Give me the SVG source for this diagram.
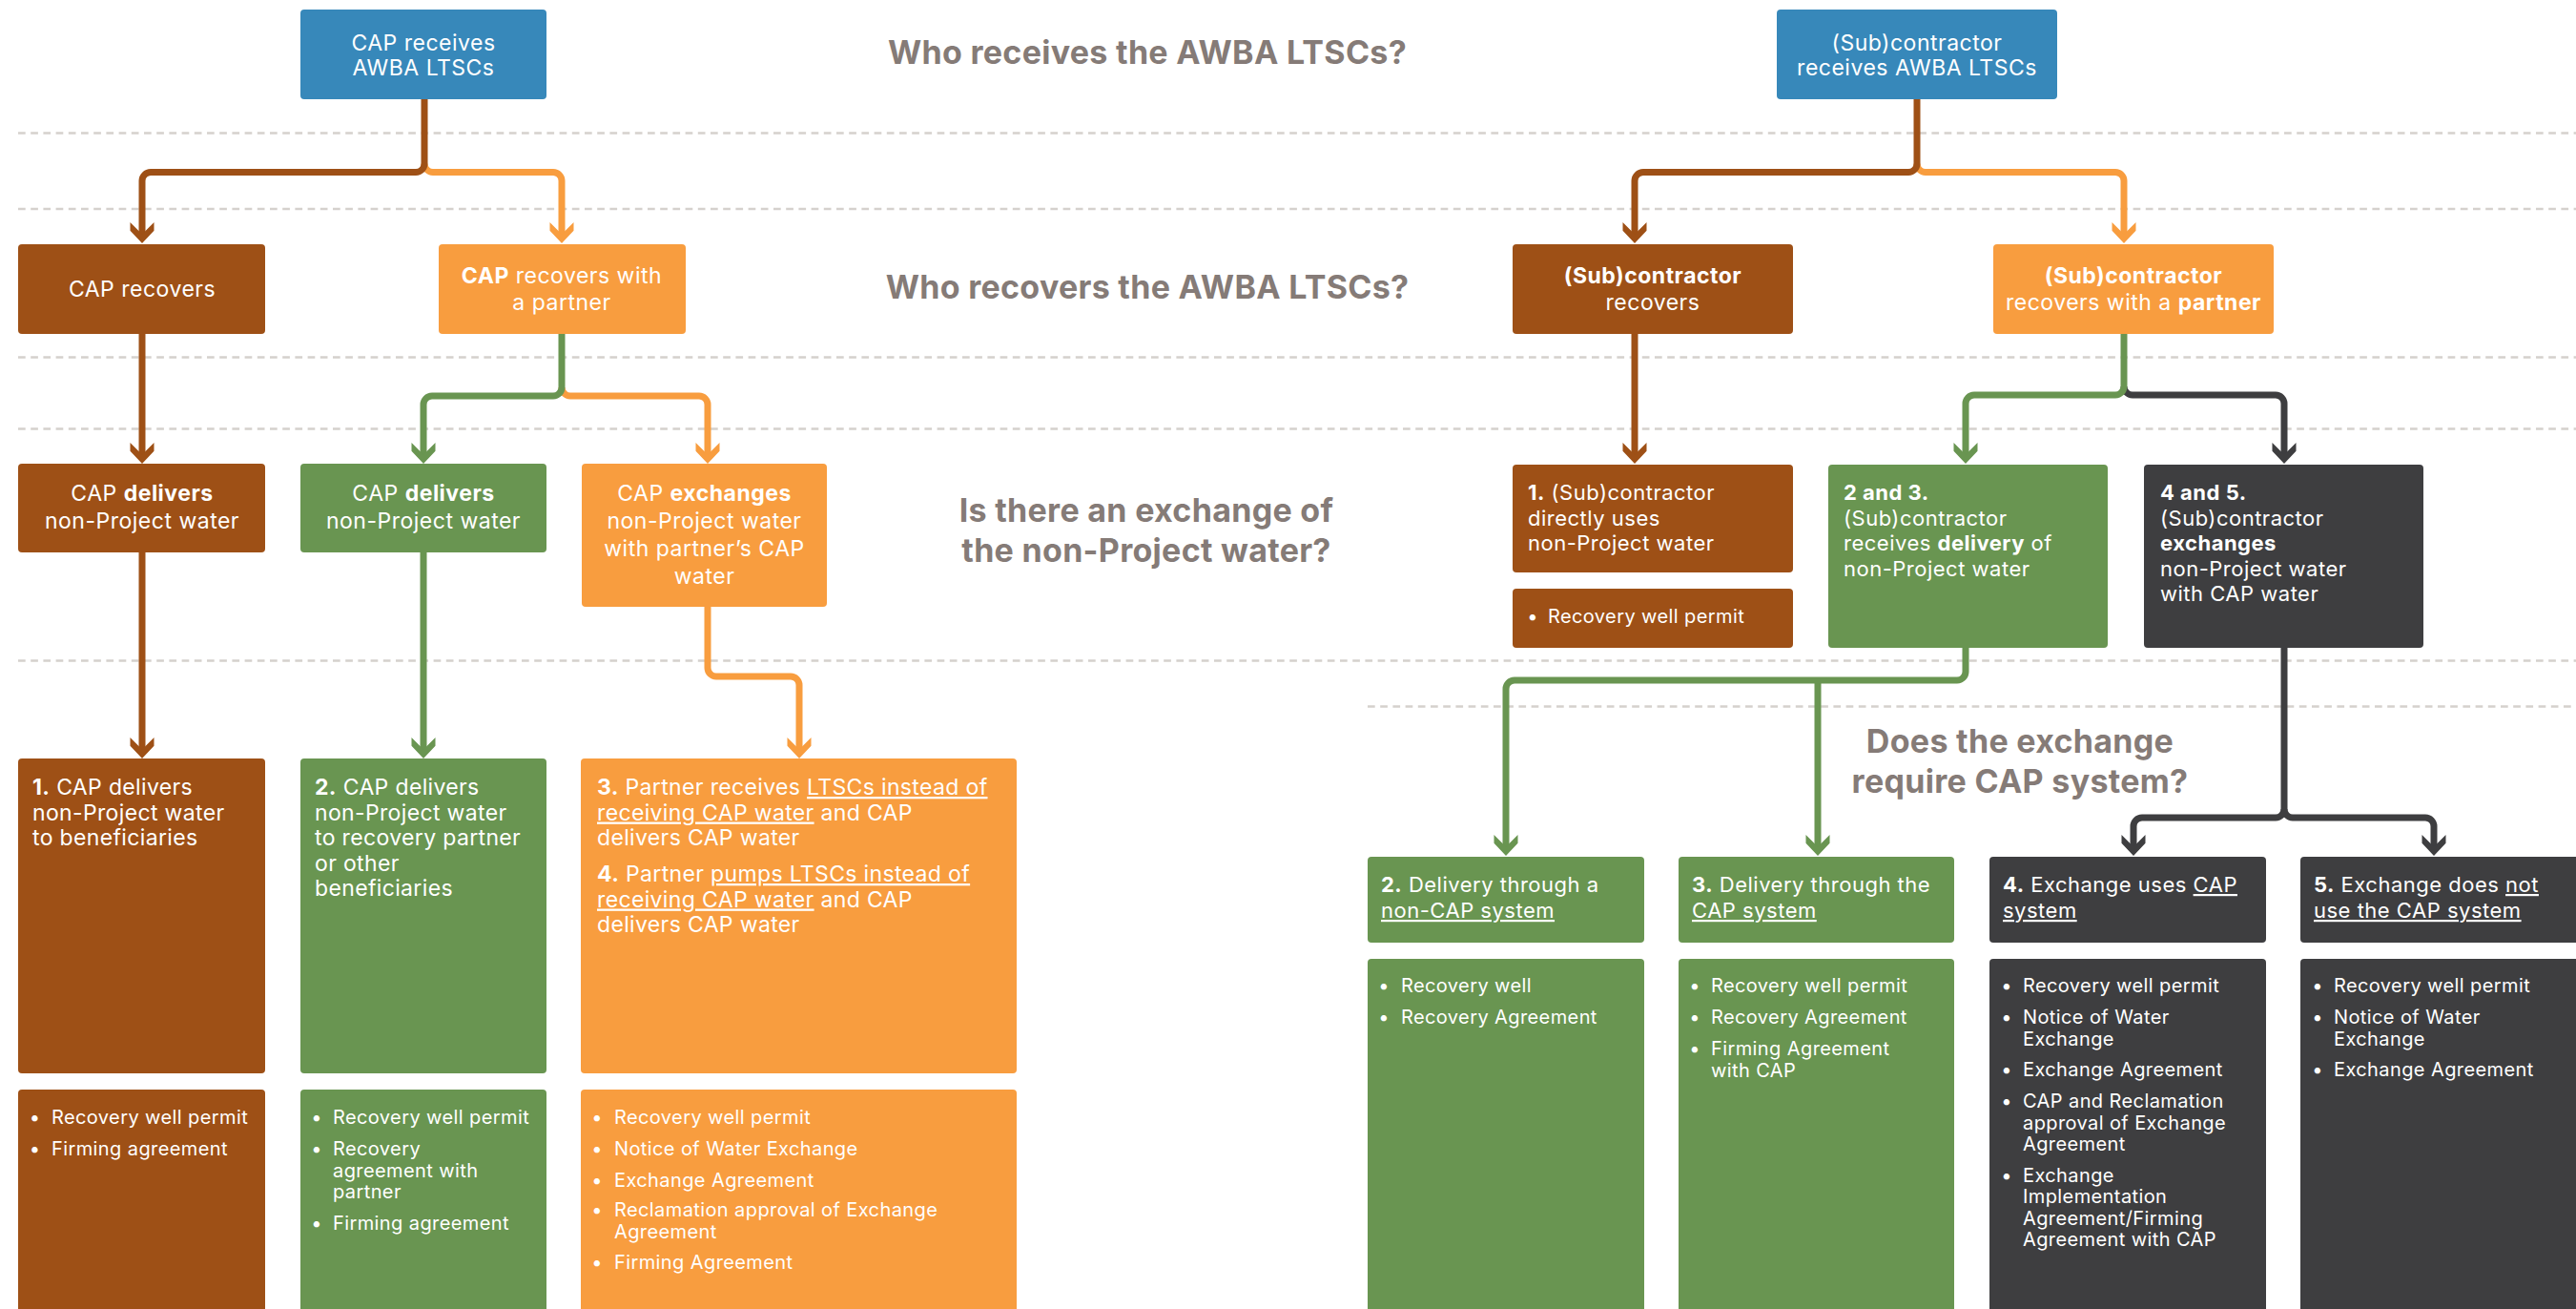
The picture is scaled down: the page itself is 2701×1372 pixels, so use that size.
<svg xmlns="http://www.w3.org/2000/svg" width="2701" height="1372" viewBox="0 0 2701 1372">
<defs>
<style>
text{font-family:Inter,"Noto Sans","Liberation Sans",sans-serif;fill:#fff}
.h{font-size:34px;font-weight:700;fill:#857b77;text-anchor:middle;letter-spacing:0.3px}
.c{font-size:23px;text-anchor:middle;letter-spacing:0.5px}
.l{font-size:23px;letter-spacing:0.35px}
.m{font-size:22px;letter-spacing:0.5px}
.s{font-size:20px;letter-spacing:0.4px}
.b{font-weight:700}
.u{text-decoration:underline}
.dot{text-anchor:middle}
.dash{stroke:#d5d1cd;stroke-width:2.7;stroke-dasharray:7.7 5.5;fill:none}
.blue{fill:#3788ba}.brown{fill:#9e5016}.orange{fill:#f89d3f}.green{fill:#699551}.dark{fill:#3e3e40}
.k{fill:none;stroke-width:7}
.kb{stroke:#9e5016}.ko{stroke:#f89d3f}.kg{stroke:#699551}.kd{stroke:#3e3e40}
</style>
<marker id="ab" markerUnits="userSpaceOnUse" orient="auto" refX="0" refY="0" markerWidth="30" markerHeight="30" overflow="visible"><path d="M-14,-12.5 L-1.5,0 L-14,12.5 L-5.3,12.5 L8,0 L-5.3,-12.5Z" fill="#9e5016"/></marker>
<marker id="ao" markerUnits="userSpaceOnUse" orient="auto" refX="0" refY="0" markerWidth="30" markerHeight="30" overflow="visible"><path d="M-14,-12.5 L-1.5,0 L-14,12.5 L-5.3,12.5 L8,0 L-5.3,-12.5Z" fill="#f89d3f"/></marker>
<marker id="ag" markerUnits="userSpaceOnUse" orient="auto" refX="0" refY="0" markerWidth="30" markerHeight="30" overflow="visible"><path d="M-14,-12.5 L-1.5,0 L-14,12.5 L-5.3,12.5 L8,0 L-5.3,-12.5Z" fill="#699551"/></marker>
<marker id="ad" markerUnits="userSpaceOnUse" orient="auto" refX="0" refY="0" markerWidth="30" markerHeight="30" overflow="visible"><path d="M-14,-12.5 L-1.5,0 L-14,12.5 L-5.3,12.5 L8,0 L-5.3,-12.5Z" fill="#3e3e40"/></marker>
</defs>
<rect width="2701" height="1372" fill="#fff"/>

<g id="guides">
<line class="dash" x1="19" y1="139.5" x2="2701" y2="139.5"/>
<line class="dash" x1="19" y1="219" x2="2701" y2="219"/>
<line class="dash" x1="19" y1="374.5" x2="2701" y2="374.5"/>
<line class="dash" x1="19" y1="449.5" x2="2701" y2="449.5"/>
<line class="dash" x1="19" y1="692.5" x2="2701" y2="692.5"/>
<line class="dash" x1="1434" y1="740.5" x2="2701" y2="740.5"/>
</g>

<g id="questions">
<text class="h" x="1203" y="67">Who receives the AWBA LTSCs?</text>
<text class="h" x="1203" y="313">Who recovers the AWBA LTSCs?</text>
<text class="h" x="1202" y="547">Is there an exchange of</text>
<text class="h" x="1202" y="589">the non-Project water?</text>
<text class="h" x="2118" y="789">Does the exchange</text>
<text class="h" x="2118" y="831">require CAP system?</text>
</g>

<g id="connectors">
<path class="k ko" d="M445,171.5 A9,9 0 0 0 454,180.5 H580 A9,9 0 0 1 589,189.5 V247" marker-end="url(#ao)"/>
<path class="k kb" d="M445,104 V171.5 A9,9 0 0 1 436,180.5 H158 A9,9 0 0 0 149,189.5 V247" marker-end="url(#ab)"/>
<path class="k kb" d="M149,350 V478" marker-end="url(#ab)"/>
<path class="k ko" d="M589,406 A9,9 0 0 0 598,415 H733 A9,9 0 0 1 742,424 V478" marker-end="url(#ao)"/>
<path class="k kg" d="M589,350 V406 A9,9 0 0 1 580,415 H453 A9,9 0 0 0 444,424 V478" marker-end="url(#ag)"/>
<path class="k kb" d="M149,579 V787" marker-end="url(#ab)"/>
<path class="k kg" d="M444,579 V787" marker-end="url(#ag)"/>
<path class="k ko" d="M742,636 V700 A9,9 0 0 0 751,709 H829 A9,9 0 0 1 838,718 V787" marker-end="url(#ao)"/>

<path class="k ko" d="M2010,171.5 A9,9 0 0 0 2019,180.5 H2218 A9,9 0 0 1 2227,189.5 V247" marker-end="url(#ao)"/>
<path class="k kb" d="M2010,104 V171.5 A9,9 0 0 1 2001,180.5 H1723 A9,9 0 0 0 1714,189.5 V247" marker-end="url(#ab)"/>
<path class="k kb" d="M1714,350 V478" marker-end="url(#ab)"/>
<path class="k kd" d="M2227,405 A9,9 0 0 0 2236,414 H2386 A9,9 0 0 1 2395,423 V478" marker-end="url(#ad)"/>
<path class="k kg" d="M2227,350 V405 A9,9 0 0 1 2218,414 H2070 A9,9 0 0 0 2061,423 V478" marker-end="url(#ag)"/>
<path class="k kg" d="M1906,713 V889" marker-end="url(#ag)"/>
<path class="k kg" d="M2061,679 V704 A9,9 0 0 1 2052,713 H1588 A9,9 0 0 0 1579,722 V889" marker-end="url(#ag)"/>
<path class="k kd" d="M2395,848 A9,9 0 0 0 2404,857 H2543 A9,9 0 0 1 2552,866 V889" marker-end="url(#ad)"/>
<path class="k kd" d="M2395,679 V848 A9,9 0 0 1 2386,857 H2246 A9,9 0 0 0 2237,866 V889" marker-end="url(#ad)"/>
</g>

<!-- Left tree -->
<g id="cap-receives">
<rect class="blue" x="315" y="10" width="258" height="94" rx="4"/>
<text class="c" x="444" y="52.5">CAP receives</text>
<text class="c" x="444" y="78.5">AWBA LTSCs</text>
</g>
<g id="cap-recovers">
<rect class="brown" x="19" y="256" width="259" height="94" rx="4"/>
<text class="c" x="149" y="311">CAP recovers</text>
</g>
<g id="cap-recovers-partner">
<rect class="orange" x="460" y="256" width="259" height="94" rx="4"/>
<text class="c" x="589" y="297"><tspan class="b">CAP</tspan> recovers with</text>
<text class="c" x="589" y="324.5">a partner</text>
</g>
<g id="cap-delivers-1">
<rect class="brown" x="19" y="486" width="259" height="93" rx="4"/>
<text class="c" x="149" y="524.5">CAP <tspan class="b">delivers</tspan></text>
<text class="c" x="149" y="554">non-Project water</text>
</g>
<g id="cap-delivers-2">
<rect class="green" x="315" y="486" width="258" height="93" rx="4"/>
<text class="c" x="444" y="524.5">CAP <tspan class="b">delivers</tspan></text>
<text class="c" x="444" y="554">non-Project water</text>
</g>
<g id="cap-exchanges">
<rect class="orange" x="610" y="486" width="257" height="150" rx="4"/>
<text class="c" x="738.5" y="524.5">CAP <tspan class="b">exchanges</tspan></text>
<text class="c" x="738.5" y="554">non-Project water</text>
<text class="c" x="738.5" y="583">with partner’s CAP</text>
<text class="c" x="738.5" y="612">water</text>
</g>
<g id="scenario-1">
<rect class="brown" x="19" y="795" width="259" height="330" rx="4"/>
<text class="l" x="34" y="833"><tspan class="b">1.</tspan> CAP delivers</text>
<text class="l" x="34" y="859.5">non-Project water</text>
<text class="l" x="34" y="886">to beneficiaries</text>
</g>
<g id="scenario-2">
<rect class="green" x="315" y="795" width="258" height="330" rx="4"/>
<text class="l" x="330" y="833"><tspan class="b">2.</tspan> CAP delivers</text>
<text class="l" x="330" y="859.5">non-Project water</text>
<text class="l" x="330" y="886">to recovery partner</text>
<text class="l" x="330" y="912.5">or other</text>
<text class="l" x="330" y="939">beneficiaries</text>
</g>
<g id="scenario-3-4">
<rect class="orange" x="609" y="795" width="457" height="330" rx="4"/>
<text class="l" x="626" y="833"><tspan class="b">3.</tspan> Partner receives <tspan class="u">LTSCs instead of</tspan></text>
<text class="l" x="626" y="859.5"><tspan class="u">receiving CAP water</tspan> and CAP</text>
<text class="l" x="626" y="886">delivers CAP water</text>
<text class="l" x="626" y="924"><tspan class="b">4.</tspan> Partner <tspan class="u">pumps LTSCs instead of</tspan></text>
<text class="l" x="626" y="950.5"><tspan class="u">receiving CAP water</tspan> and CAP</text>
<text class="l" x="626" y="977">delivers CAP water</text>
</g>
<g id="req-1">
<rect class="brown" x="19" y="1142" width="259" height="240" rx="4"/>
<text class="s dot" x="36.5" y="1178">•</text><text class="s" x="54" y="1178">Recovery well permit</text>
<text class="s dot" x="36.5" y="1211">•</text><text class="s" x="54" y="1211">Firming agreement</text>
</g>
<g id="req-2">
<rect class="green" x="315" y="1142" width="258" height="240" rx="4"/>
<text class="s dot" x="332" y="1178">•</text><text class="s" x="349" y="1178">Recovery well permit</text>
<text class="s dot" x="332" y="1211">•</text><text class="s" x="349" y="1211">Recovery</text>
<text class="s" x="349" y="1233.5">agreement with</text>
<text class="s" x="349" y="1256">partner</text>
<text class="s dot" x="332" y="1288.5">•</text><text class="s" x="349" y="1288.5">Firming agreement</text>
</g>
<g id="req-3-4">
<rect class="orange" x="609" y="1142" width="457" height="240" rx="4"/>
<text class="s dot" x="626" y="1178">•</text><text class="s" x="644" y="1178">Recovery well permit</text>
<text class="s dot" x="626" y="1211">•</text><text class="s" x="644" y="1211">Notice of Water Exchange</text>
<text class="s dot" x="626" y="1244">•</text><text class="s" x="644" y="1244">Exchange Agreement</text>
<text class="s dot" x="626" y="1275">•</text><text class="s" x="644" y="1275">Reclamation approval of Exchange</text>
<text class="s" x="644" y="1297.5">Agreement</text>
<text class="s dot" x="626" y="1330">•</text><text class="s" x="644" y="1330">Firming Agreement</text>
</g>

<!-- Right tree -->
<g id="sub-receives">
<rect class="blue" x="1863" y="10" width="294" height="94" rx="4"/>
<text class="c" x="2010" y="52.5">(Sub)contractor</text>
<text class="c" x="2010" y="78.5">receives AWBA LTSCs</text>
</g>
<g id="sub-recovers">
<rect class="brown" x="1586" y="256" width="294" height="94" rx="4"/>
<text class="c b" x="1733" y="297">(Sub)contractor</text>
<text class="c" x="1733" y="324.5">recovers</text>
</g>
<g id="sub-recovers-partner">
<rect class="orange" x="2090" y="256" width="294" height="94" rx="4"/>
<text class="c b" x="2237" y="297">(Sub)contractor</text>
<text class="c" x="2237" y="324.5">recovers with a <tspan class="b">partner</tspan></text>
</g>
<g id="sub-direct">
<rect class="brown" x="1586" y="487" width="294" height="113" rx="4"/>
<text class="m" x="1602" y="524"><tspan class="b">1.</tspan> (Sub)contractor</text>
<text class="m" x="1602" y="550.5">directly uses</text>
<text class="m" x="1602" y="577">non-Project water</text>
</g>
<g id="sub-direct-req">
<rect class="brown" x="1586" y="617" width="294" height="62" rx="4"/>
<text class="s dot" x="1607" y="653">•</text><text class="s" x="1623" y="653">Recovery well permit</text>
</g>
<g id="sub-delivery">
<rect class="green" x="1917" y="487" width="293" height="192" rx="4"/>
<text class="m b" x="1933" y="524">2 and 3.</text>
<text class="m" x="1933" y="550.5">(Sub)contractor</text>
<text class="m" x="1933" y="577">receives <tspan class="b">delivery</tspan> of</text>
<text class="m" x="1933" y="603.5">non-Project water</text>
</g>
<g id="sub-exchange">
<rect class="dark" x="2248" y="487" width="293" height="192" rx="4"/>
<text class="m b" x="2265" y="524">4 and 5.</text>
<text class="m" x="2265" y="550.5">(Sub)contractor</text>
<text class="m b" x="2265" y="577">exchanges</text>
<text class="m" x="2265" y="603.5">non-Project water</text>
<text class="m" x="2265" y="630">with CAP water</text>
</g>
<g id="opt-2">
<rect class="green" x="1434" y="898" width="290" height="90" rx="4"/>
<text class="m" x="1448" y="935"><tspan class="b">2.</tspan> Delivery through a</text>
<text class="m u" x="1448" y="962">non-CAP system</text>
</g>
<g id="opt-3">
<rect class="green" x="1760" y="898" width="289" height="90" rx="4"/>
<text class="m" x="1774" y="935"><tspan class="b">3.</tspan> Delivery through the</text>
<text class="m u" x="1774" y="962">CAP system</text>
</g>
<g id="opt-4">
<rect class="dark" x="2086" y="898" width="290" height="90" rx="4"/>
<text class="m" x="2100" y="935"><tspan class="b">4.</tspan> Exchange uses <tspan class="u">CAP</tspan></text>
<text class="m u" x="2100" y="962">system</text>
</g>
<g id="opt-5">
<rect class="dark" x="2412" y="898" width="300" height="90" rx="4"/>
<text class="m" x="2426" y="935"><tspan class="b">5.</tspan> Exchange does <tspan class="u">not</tspan></text>
<text class="m u" x="2426" y="962">use the CAP system</text>
</g>
<g id="req-opt-2">
<rect class="green" x="1434" y="1005" width="290" height="380" rx="4"/>
<text class="s dot" x="1451" y="1040">•</text><text class="s" x="1469" y="1040">Recovery well</text>
<text class="s dot" x="1451" y="1073">•</text><text class="s" x="1469" y="1073">Recovery Agreement</text>
</g>
<g id="req-opt-3">
<rect class="green" x="1760" y="1005" width="289" height="380" rx="4"/>
<text class="s dot" x="1777" y="1040">•</text><text class="s" x="1794" y="1040">Recovery well permit</text>
<text class="s dot" x="1777" y="1073">•</text><text class="s" x="1794" y="1073">Recovery Agreement</text>
<text class="s dot" x="1777" y="1106">•</text><text class="s" x="1794" y="1106">Firming Agreement</text>
<text class="s" x="1794" y="1128.5">with CAP</text>
</g>
<g id="req-opt-4">
<rect class="dark" x="2086" y="1005" width="290" height="380" rx="4"/>
<text class="s dot" x="2104" y="1040">•</text><text class="s" x="2121" y="1040">Recovery well permit</text>
<text class="s dot" x="2104" y="1073">•</text><text class="s" x="2121" y="1073">Notice of Water</text>
<text class="s" x="2121" y="1095.5">Exchange</text>
<text class="s dot" x="2104" y="1128">•</text><text class="s" x="2121" y="1128">Exchange Agreement</text>
<text class="s dot" x="2104" y="1161">•</text><text class="s" x="2121" y="1161">CAP and Reclamation</text>
<text class="s" x="2121" y="1183.5">approval of Exchange</text>
<text class="s" x="2121" y="1206">Agreement</text>
<text class="s dot" x="2104" y="1238.5">•</text><text class="s" x="2121" y="1238.5">Exchange</text>
<text class="s" x="2121" y="1261">Implementation</text>
<text class="s" x="2121" y="1283.5">Agreement/Firming</text>
<text class="s" x="2121" y="1306">Agreement with CAP</text>
</g>
<g id="req-opt-5">
<rect class="dark" x="2412" y="1005" width="300" height="380" rx="4"/>
<text class="s dot" x="2430" y="1040">•</text><text class="s" x="2447" y="1040">Recovery well permit</text>
<text class="s dot" x="2430" y="1073">•</text><text class="s" x="2447" y="1073">Notice of Water</text>
<text class="s" x="2447" y="1095.5">Exchange</text>
<text class="s dot" x="2430" y="1128">•</text><text class="s" x="2447" y="1128">Exchange Agreement</text>
</g>
</svg>
